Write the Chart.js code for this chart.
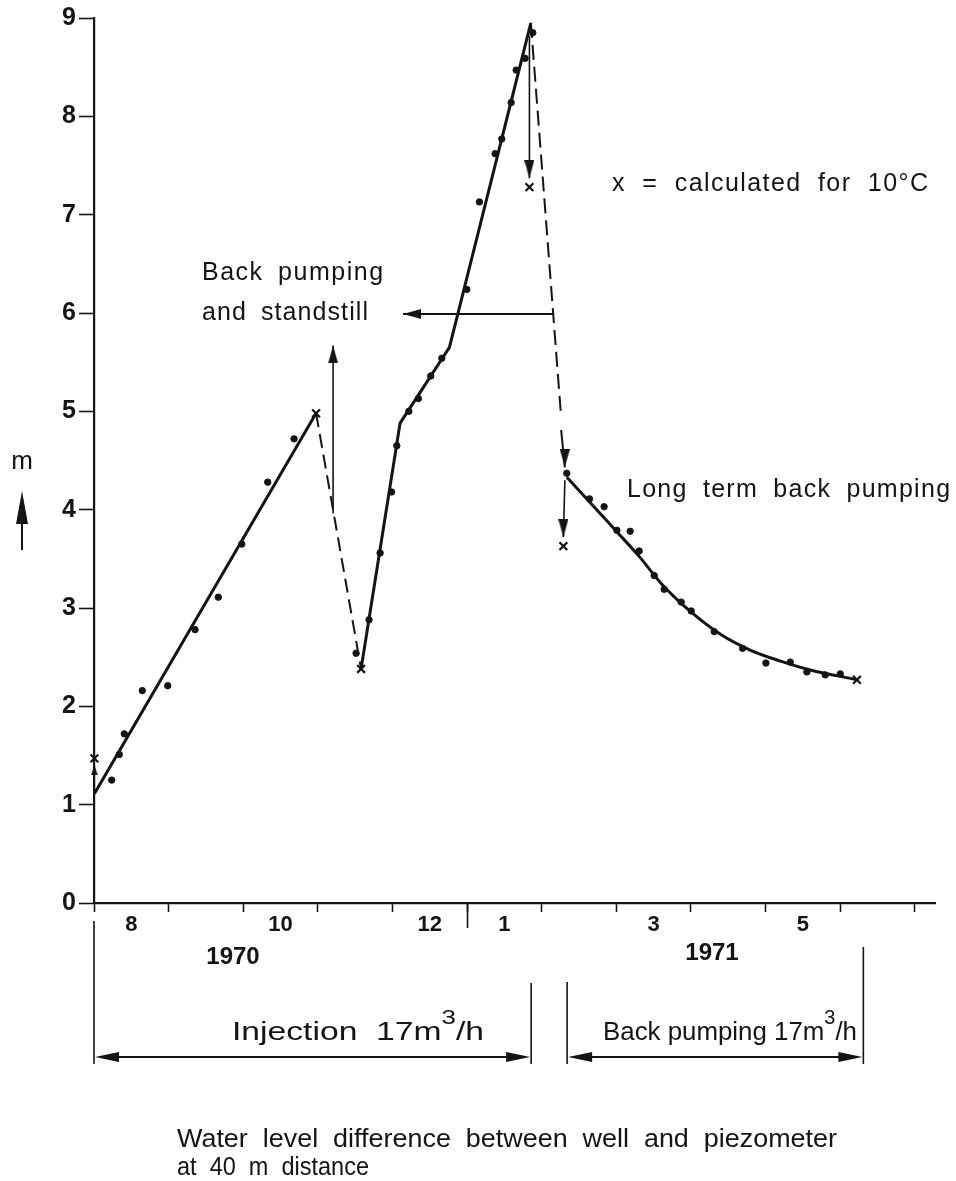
<!DOCTYPE html>
<html>
<head>
<meta charset="utf-8">
<script src="https://cdn.jsdelivr.net/npm/chart.js@4.4.1/dist/chart.umd.min.js"></script>
<style>
  html, body { margin: 0; padding: 0; background: #ffffff; }
  canvas { display: block; }
</style>
</head>
<body>
<canvas id="c" width="956" height="1181"></canvas>
<script>
// x = months after 1 August 1970, y = water level difference (m)
const monthTickValues  = [0, 1, 2, 3, 4, 5, 6, 7, 8, 9, 10, 11];
const monthLabelValues = [0.5, 2.5, 4.5, 5.5, 7.5, 9.5];
const monthLabels      = ['8', '10', '12', '1', '3', '5'];
const yTickValues      = [0, 1, 2, 3, 4, 5, 6, 7, 8, 9];

// measured values (dots)
const measuredX = [0.237, 0.339, 0.406, 0.647, 0.988, 1.354, 1.666, 1.980, 2.328, 2.681,
                   3.512, 3.686, 3.834, 3.988, 4.058, 4.219, 4.347, 4.513, 4.661, 4.996,
                   5.165, 5.375, 5.465, 5.590, 5.657, 5.777, 5.880,
                   6.336, 6.640, 6.836, 7.007, 7.185, 7.306, 7.507, 7.641, 7.869, 8.003,
                   8.311, 8.691, 9.004, 9.330, 9.553, 9.799, 10.000];
const measuredY = [1.25, 1.51, 1.72, 2.16, 2.21, 2.78, 3.11, 3.65, 4.28, 4.72,
                   2.54, 2.88, 3.56, 4.18, 4.65, 5.00, 5.13, 5.36, 5.54, 6.24,
                   7.13, 7.62, 7.77, 8.14, 8.47, 8.59, 8.85,
                   4.37, 4.11, 4.03, 3.79, 3.78, 3.58, 3.33, 3.19, 3.06, 2.97,
                   2.76, 2.59, 2.44, 2.45, 2.35, 2.32, 2.33];

// values calculated for 10 °C (x markers)
const calculatedX = [0.005, 2.976, 3.579, 5.835, 6.290, 10.224];
const calculatedY = [1.47, 4.98, 2.38, 7.28, 3.63, 2.27];

// fitted lines
const injectionFitX   = [0.005, 2.976];
const injectionFitY   = [1.11, 4.98];
const standstillX     = [2.976, 3.579];
const standstillY     = [4.98, 2.38];
const reinjectionX    = [3.579, 4.102, 4.763, 5.854];
const reinjectionY    = [2.38, 4.88, 5.65, 8.95];
const dropX           = [5.854, 6.260];
const dropY           = [8.95, 4.94];
const longTermX       = [6.336, 6.70, 7.00, 7.30, 7.60, 8.00, 8.40, 8.80, 9.20, 9.60, 10.224];
const longTermY       = [4.33, 4.03, 3.78, 3.53, 3.25, 2.96, 2.73, 2.57, 2.46, 2.37, 2.27];

// arrows: [x0, x1], [y0, y1], head at the second point
const arrowStartX      = [0.005, 0.005];  const arrowStartY      = [1.11, 1.40];
const arrowStandstillX = [3.204, 3.204];  const arrowStandstillY = [3.96, 5.67];
const arrowLeftX       = [6.166, 4.142];  const arrowLeftY       = [5.99, 5.99];
const arrowPeakX       = [5.835, 5.835];  const arrowPeakY       = [8.82, 7.37];
const arrowDropX       = [6.260, 6.310];  const arrowDropY       = [4.81, 4.43];
const arrowCorrX       = [6.310, 6.290];  const arrowCorrY       = [4.30, 3.72];

// periods below the axis (months after 1 Aug 1970)
const injectionPeriod   = [0, 5.858];
const backPumpingPeriod = [6.340, 10.310];

const INK = '#141414';
const SANS = '"Liberation Sans", Arial, Helvetica, sans-serif';
const NARROW = '"Liberation Sans Narrow", "Liberation Sans", Arial, sans-serif';

const pts = (xs, ys) => xs.map((x, i) => ({ x: x, y: ys[i] }));

function makeHead(w, len) {
  const c = document.createElement('canvas');
  c.width = w; c.height = len * 2;
  const g = c.getContext('2d');
  g.fillStyle = INK;
  g.beginPath();
  g.moveTo(w / 2, len);
  g.lineTo(w, len * 2);
  g.lineTo(0, len * 2);
  g.closePath();
  g.fill();
  return c;
}
const bigHead = makeHead(10, 18);
const smallHead = makeHead(7, 10);

function arrowDataset(xs, ys, rotation, head, width) {
  return {
    data: pts(xs, ys), showLine: true, borderColor: INK, borderWidth: width || 1.6,
    pointStyle: head, rotation: rotation,
    pointRadius: (c) => c.dataIndex === 1 ? 6 : 0,
    clip: false, order: 3
  };
}
function lineDataset(xs, ys, opts) {
  return Object.assign({
    data: pts(xs, ys), showLine: true, borderColor: INK, borderWidth: 3,
    pointRadius: 0, clip: false, order: 4
  }, opts || {});
}

const datasets = [
  { data: pts(calculatedX, calculatedY), pointStyle: 'crossRot', pointRadius: 5.5,
    borderColor: INK, pointBorderWidth: 2.2, showLine: false, clip: false, order: 1 },
  { data: pts(measuredX, measuredY), pointStyle: 'circle', pointRadius: 3.2,
    backgroundColor: INK, borderColor: INK, showLine: false, clip: false, order: 2 },
  lineDataset(injectionFitX, injectionFitY),
  lineDataset(standstillX, standstillY, { borderWidth: 2, borderDash: [14, 7] }),
  lineDataset(reinjectionX, reinjectionY),
  lineDataset(dropX, dropY, { borderWidth: 2, borderDash: [15, 7] }),
  lineDataset(longTermX, longTermY, { cubicInterpolationMode: 'monotone', borderWidth: 3 }),
  arrowDataset(arrowStartX, arrowStartY, 0, smallHead, 1.4),
  arrowDataset(arrowStandstillX, arrowStandstillY, 0, bigHead),
  arrowDataset(arrowLeftX, arrowLeftY, 270, bigHead, 2),
  arrowDataset(arrowPeakX, arrowPeakY, 180, bigHead),
  arrowDataset(arrowDropX, arrowDropY, 180, bigHead, 2),
  arrowDataset(arrowCorrX, arrowCorrY, 180, bigHead)
];

// text helpers
function spacedText(ctx, text, left, cy, width, font, wordGap) {
  ctx.font = font;
  ctx.textAlign = 'left';
  ctx.textBaseline = 'middle';
  const natural = ctx.measureText(text).width;
  const chars = [...text];
  const spaces = chars.filter(ch => ch === ' ').length;
  const ws = wordGap || 0;
  const ls = Math.max(0, (width - natural - spaces * ws) / (chars.length - 1));
  ctx.letterSpacing = ls.toFixed(2) + 'px';
  ctx.wordSpacing = ws + 'px';
  ctx.fillText(text, left, cy);
  ctx.letterSpacing = '0px';
  ctx.wordSpacing = '0px';
}
function squeezedText(ctx, parts, left, cy, width, size) {
  // parts: [text, isSuperscript]
  const fontOf = (sup) => (sup ? Math.round(size * 0.78) : size) + 'px ' + NARROW;
  let natural = 0;
  parts.forEach(([t, sup]) => { ctx.font = fontOf(sup); natural += ctx.measureText(t).width; });
  const k = width / natural;
  ctx.save();
  ctx.translate(left, cy);
  ctx.scale(k, 1);
  ctx.textAlign = 'left';
  ctx.textBaseline = 'middle';
  let x = 0;
  parts.forEach(([t, sup]) => {
    ctx.font = fontOf(sup);
    ctx.fillText(t, x, sup ? -size * 0.55 : 0);
    x += ctx.measureText(t).width;
  });
  ctx.restore();
}
function filledHead(ctx, tipX, tipY, dir, w, len) {
  ctx.beginPath();
  ctx.moveTo(tipX, tipY);
  ctx.lineTo(tipX - dir * len, tipY - w / 2);
  ctx.lineTo(tipX - dir * len, tipY + w / 2);
  ctx.closePath();
  ctx.fill();
}

const annotations = {
  id: 'annotations',
  afterDraw(chart) {
    const ctx = chart.ctx;
    const xs = chart.scales.x;
    const base = chart.chartArea.bottom;
    ctx.save();
    ctx.fillStyle = INK;
    ctx.strokeStyle = INK;

    // long tick at the turn of the year
    const yr = Math.round(xs.getPixelForValue(5)) + 0.5;
    ctx.lineWidth = 1.6;
    ctx.beginPath(); ctx.moveTo(yr, base); ctx.lineTo(yr, base + 25); ctx.stroke();

    // years
    ctx.font = 'bold 24px ' + SANS;
    ctx.textAlign = 'center';
    ctx.textBaseline = 'middle';
    ctx.fillText('1970', 233, 957);
    ctx.fillText('1971', 712, 953);

    // period brackets
    const brackets = [
      [injectionPeriod, 921, 983],
      [backPumpingPeriod, 982, 947]
    ];
    const arrowY = 1057;
    ctx.lineWidth = 1.6;
    brackets.forEach(([p, top0, top1]) => {
      const a = xs.getPixelForValue(p[0]);
      const b = xs.getPixelForValue(p[1]);
      ctx.beginPath();
      ctx.moveTo(a, top0); ctx.lineTo(a, arrowY + 7);
      ctx.moveTo(b, top1); ctx.lineTo(b, arrowY + 7);
      ctx.stroke();
      ctx.lineWidth = 2.2;
      ctx.beginPath(); ctx.moveTo(a + 10, arrowY); ctx.lineTo(b - 10, arrowY); ctx.stroke();
      ctx.lineWidth = 1.6;
      filledHead(ctx, a + 1, arrowY, -1, 10, 24);
      filledHead(ctx, b - 1, arrowY, 1, 10, 24);
    });

    squeezedText(ctx, [['Injection  17m', false], ['3', true], ['/h', false]], 232, 1033, 252, 26);
    squeezedText(ctx, [['Back pumping 17m', false], ['3', true], ['/h', false]], 603, 1033, 254, 26);

    // caption
    squeezedText(ctx, [['Water  level  difference  between  well  and  piezometer', false]], 177, 1140, 660, 26);
    squeezedText(ctx, [['at  40  m  distance', false]], 177, 1168, 192, 26);

    // in-plot notes
    spacedText(ctx, 'Back pumping', 202, 273, 181, '25px ' + SANS, 6);
    spacedText(ctx, 'and standstill', 202, 313, 166, '25px ' + SANS, 6);
    spacedText(ctx, 'x = calculated for 10°C', 612, 184, 316, '25px ' + SANS, 8);
    spacedText(ctx, 'Long term back pumping', 627, 490, 323, '25px ' + SANS, 7);

    // unit label with arrow
    ctx.font = '26px ' + SANS;
    ctx.textAlign = 'center';
    ctx.textBaseline = 'middle';
    ctx.fillText('m', 22, 462);
    ctx.lineWidth = 2;
    ctx.beginPath(); ctx.moveTo(22, 550); ctx.lineTo(22, 510); ctx.stroke();
    ctx.beginPath();
    ctx.moveTo(22, 491); ctx.lineTo(28, 524); ctx.lineTo(16, 524); ctx.closePath(); ctx.fill();

    ctx.restore();
  }
};

new Chart(document.getElementById('c').getContext('2d'), {
  type: 'scatter',
  data: { datasets: datasets },
  options: {
    responsive: false,
    animation: false,
    events: [],
    layout: { padding: { left: 0, top: 17, right: 21, bottom: 0 } },
    plugins: { legend: { display: false }, tooltip: { enabled: false } },
    scales: {
      x: {
        type: 'linear', position: 'bottom', min: 0, max: 11.27, weight: 0,
        afterBuildTicks: (axis) => { axis.ticks = monthTickValues.map(v => ({ value: v })); },
        ticks: { display: false },
        grid: { display: true, drawOnChartArea: false, drawTicks: true, tickLength: 9,
                color: INK, tickWidth: 1.6 },
        border: { display: true, color: INK, width: 2.2 },
        afterFit: (axis) => { axis.height = 9; }
      },
      xl: {
        type: 'linear', position: 'bottom', min: 0, max: 11.27, weight: 1,
        afterBuildTicks: (axis) => { axis.ticks = monthLabelValues.map(v => ({ value: v })); },
        ticks: {
          autoSkip: false, maxRotation: 0, padding: 0, color: INK,
          font: { family: SANS, size: 22, weight: 'bold' },
          callback: (value, index) => monthLabels[index]
        },
        grid: { display: false, drawTicks: false },
        border: { display: false },
        afterFit: (axis) => { axis.height = 1181 - 903 - 9; }
      },
      y: {
        type: 'linear', position: 'left', min: 0, max: 9,
        afterBuildTicks: (axis) => { axis.ticks = yTickValues.map(v => ({ value: v })); },
        ticks: { padding: 3, color: INK, font: { family: SANS, size: 25, weight: 'bold' } },
        grid: { display: true, drawOnChartArea: false, drawTicks: true, tickLength: 15,
                color: INK, tickWidth: 1.6 },
        border: { display: true, color: INK, width: 2.2 },
        afterFit: (axis) => { axis.width = 94; }
      }
    }
  },
  plugins: [annotations]
});
</script>
</body>
</html>
